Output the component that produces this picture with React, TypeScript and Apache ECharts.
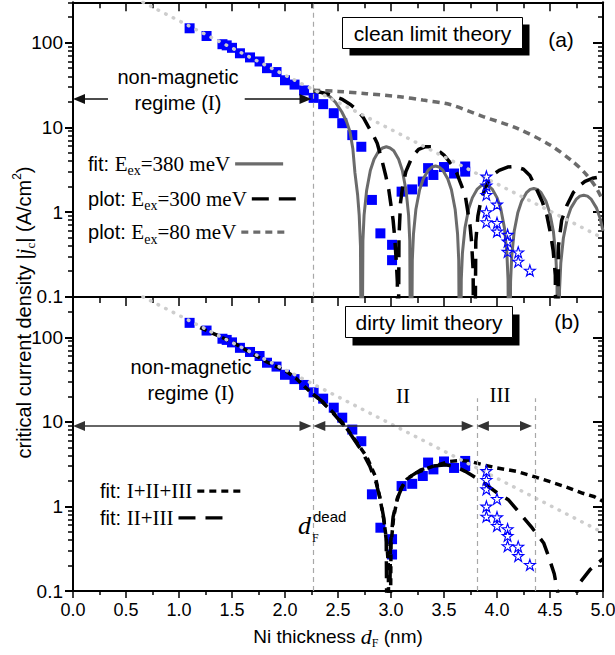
import React, { useEffect, useRef } from 'react';
import * as echarts from 'echarts';

const SANS = '"Liberation Sans", Arial, Helvetica, sans-serif';
const SERIF = '"Liberation Serif", "Times New Roman", serif';

// ---------- axes ----------
const xMin = 0;
const xMax = 5;
const xInterval = 0.5;
const yMajorValues = [0.1, 1, 10, 100];
const yMinorValues = [0.2, 0.3, 0.4, 0.5, 0.6, 0.7, 0.8, 0.9, 2, 3, 4, 5, 6, 7, 8, 9, 20, 30, 40, 50, 60, 70, 80, 90, 200, 300];
const yMinVal = 0.1;
const yMaxVal = 300;

// ---------- measured data (d_F in nm, jc in A/cm^2) ----------
const squares: number[][] = [
  [1.10, 148], [1.26, 120], [1.41, 96], [1.45, 93], [1.50, 87], [1.575, 75], [1.67, 67], [1.76, 60],
  [1.83, 50], [1.92, 45], [2.00, 36], [2.09, 32], [2.18, 27.3], [2.27, 22.3], [2.36, 18.8], [2.46, 14.7],
  [2.54, 11.2], [2.635, 8.1], [2.72, 5.9], [2.82, 1.39], [2.90, 0.56], [3.01, 0.41], [3.01, 0.27],
  [3.10, 1.74], [3.20, 1.85], [3.30, 2.29], [3.35, 3.3], [3.40, 2.74], [3.50, 3.4], [3.595, 2.85],
  [3.70, 3.45], [3.70, 3.0],
];
const stars: number[][] = [
  [3.90, 2.63], [3.90, 2.06], [3.90, 1.6], [4.0, 1.23], [3.90, 1.0], [3.90, 0.76], [4.0, 0.745],
  [4.0, 0.59], [4.1, 0.54], [4.1, 0.45], [4.1, 0.34], [4.2, 0.335], [4.2, 0.26], [4.31, 0.204],
];
// exponential reference decay (light grey dotted)
const refDecay: number[][] = [[0.66, 300], [5.0, 0.49]];

// ---------- clean limit theory (panel a) ----------
const clean380: number[][] = [
  [2.267, 27.6], [2.36, 25.5], [2.425, 23], [2.48, 19.5], [2.535, 15.3], [2.58, 11.8], [2.613, 8.9], [2.64, 5.6],
  [2.66, 2.9], [2.685, 1.6], [2.70, 0.92], [2.712, 0.4], [2.723, 0.001],
  [2.735, 0.46], [2.746, 0.92], [2.77, 1.8], [2.805, 3.1], [2.84, 4.2], [2.886, 5.3], [2.92, 5.7], [2.956, 5.9],
  [2.991, 5.7], [3.026, 5.3], [3.072, 4.2], [3.107, 3.1], [3.142, 1.8], [3.166, 0.92], [3.177, 0.46], [3.189, 0.001],
  [3.201, 0.27], [3.212, 0.55], [3.235, 1.08], [3.27, 1.83], [3.305, 2.47], [3.351, 3.12], [3.386, 3.4], [3.42, 3.5],
  [3.454, 3.4], [3.489, 3.12], [3.535, 2.47], [3.57, 1.83], [3.605, 1.08], [3.628, 0.55], [3.639, 0.27], [3.651, 0.001],
  [3.663, 0.16], [3.674, 0.33], [3.698, 0.65], [3.733, 1.1], [3.768, 1.48], [3.814, 1.87], [3.849, 2.04], [3.884, 2.1],
  [3.919, 2.04], [3.954, 1.87], [4.0, 1.48], [4.035, 1.1], [4.07, 0.65], [4.093, 0.33], [4.104, 0.16], [4.116, 0.001],
  [4.128, 0.15], [4.139, 0.3], [4.162, 0.59], [4.197, 0.99], [4.232, 1.34], [4.278, 1.69], [4.313, 1.85], [4.347, 1.9],
  [4.381, 1.85], [4.416, 1.69], [4.462, 1.34], [4.497, 0.99], [4.532, 0.59], [4.555, 0.3], [4.566, 0.15], [4.578, 0.001],
  [4.59, 0.12], [4.602, 0.25], [4.626, 0.49], [4.662, 0.83], [4.698, 1.12], [4.746, 1.41], [4.782, 1.54], [4.818, 1.58],
  [4.854, 1.54], [4.89, 1.41], [4.938, 1.12], [4.974, 0.83], [5.0, 0.6],
];
const clean300: number[][] = [
  [2.267, 27], [2.4, 25], [2.535, 21.6], [2.62, 18.5], [2.69, 15.6], [2.74, 13], [2.786, 10.2], [2.83, 8.2],
  [2.87, 6.5], [2.91, 4.3], [2.95, 2.7], [2.98, 1.8], [3.0, 1.2], [3.02, 0.8], [3.035, 0.5], [3.05, 0.26],
  [3.06, 0.15], [3.065, 0.001],
  [3.075, 0.5], [3.09, 1.3], [3.11, 2.0], [3.14, 3.0], [3.2, 4.5], [3.26, 5.5], [3.32, 5.9], [3.38, 5.9],
  [3.44, 5.4], [3.5, 4.7], [3.56, 3.8], [3.59, 3.4], [3.62, 2.9], [3.65, 2.3], [3.7, 1.58], [3.72, 1.1],
  [3.745, 0.7], [3.76, 0.45], [3.775, 0.2], [3.785, 0.001],
  [3.8, 0.45], [3.82, 0.9], [3.85, 1.4], [3.887, 1.9], [3.95, 2.7], [4.02, 3.1], [4.1, 3.4], [4.17, 3.45],
  [4.25, 3.2], [4.31, 2.7], [4.37, 1.9], [4.43, 1.3], [4.47, 0.92], [4.5, 0.6], [4.53, 0.35], [4.55, 0.18],
  [4.565, 0.001],
  [4.58, 0.4], [4.61, 0.8], [4.66, 1.2], [4.72, 1.7], [4.78, 2.05], [4.83, 2.3], [4.9, 2.5], [5.0, 2.65],
];
const clean80: number[][] = [
  [2.267, 27.5], [2.5, 26.6], [2.77, 25], [3.085, 23], [3.3, 21], [3.557, 18.6], [3.87, 13.4],
  [4.186, 9.8], [4.5, 6.2], [4.72, 3.9], [4.846, 2.74], [4.94, 1.9], [5.0, 1.35],
];

// ---------- dirty limit theory (panel b) ----------
const dirtyAll: number[][] = [
  [1.2, 130], [1.5, 88], [1.83, 51], [2.02, 39], [2.1, 33], [2.24, 22.5], [2.33, 18.2], [2.456, 12.8],
  [2.55, 9.5], [2.61, 7.5], [2.69, 5.4], [2.77, 3.9], [2.85, 2.3], [2.896, 1.25], [2.93, 0.72], [2.96, 0.38],
  [2.975, 0.2], [2.985, 0.001],
  [3.0, 0.35], [3.025, 0.75], [3.055, 1.15], [3.09, 1.6], [3.15, 2.1], [3.24, 2.5], [3.4, 3.0], [3.55, 3.4],
  [3.65, 3.5], [3.75, 3.4], [3.87, 3.1], [4.0, 2.85], [4.18, 2.6], [4.35, 2.25], [4.5, 1.96], [4.65, 1.7],
  [4.81, 1.43], [4.92, 1.3], [5.0, 1.15],
];
const dirty23: number[][] = [
  [2.27, 21], [2.35, 17.5], [2.45, 12.8], [2.55, 9.2], [2.63, 6.8], [2.72, 4.6], [2.8, 3.0], [2.86, 1.9],
  [2.9, 1.2], [2.93, 0.75], [2.955, 0.4], [2.97, 0.001],
  [2.995, 0.35], [3.02, 0.75], [3.06, 1.25], [3.11, 1.75], [3.18, 2.25], [3.28, 2.7], [3.4, 3.0], [3.52, 3.1],
  [3.62, 2.9], [3.7, 2.6], [3.77, 2.3], [3.9, 1.8], [4.0, 1.45], [4.11, 1.19], [4.23, 0.79], [4.33, 0.56],
  [4.44, 0.37], [4.48, 0.27], [4.54, 0.16], [4.57, 0.1], [4.62, 0.04], [4.66, 0.001],
  [4.72, 0.06], [4.77, 0.12], [4.88, 0.18], [5.0, 0.24],
];

// ---------- annotations ----------
const dDead = 2.265;
const regionIIEnd = 3.815;
const regionIIIEnd = 4.36;
const regionLineTop = 19;
const arrowLevelA = 21.6;
const arrowLevelB = 8.9;
const arrowsA = [[0, 0.33], [1.62, 2.25]];
const arrowsB = [[0, 2.25], [2.267, 3.78], [3.81, 4.33]];
const HEAD = 6 / 106; // half arrow-head length in nm

const legendLabels: Record<string, string> = {
  fit380: '{s|fit: }{r|E}{sub|ex}{r|=380 meV}',
  plot300: '{s|plot: }{r|E}{sub|ex}{r|=300 meV}',
  plot80: '{s|plot: }{r|E}{sub|ex}{r|=80 meV}',
  fitAll: '{s|fit: }{r|I+II+III}',
  fit23: '{s|fit: }{r|II+III}',
};
const legendRowsA = ['fit380', 'plot300', 'plot80'];
const legendRowsB = ['fitAll', 'fit23'];

const lg = (v: number) => Math.log10(v);
const toLog = (pts: number[][]) => pts.map(([d, j]) => [d, lg(j)]);

function buildOption() {
  const majorLogs = yMajorValues.map(lg);
  const minorLogs = yMinorValues.map(lg);
  const yFmt = (v: number) => {
    const n = Math.round(v);
    if (Math.abs(v - n) > 1e-6) return '';
    const val = Math.pow(10, n);
    return n < 0 ? val.toFixed(-n) : String(val);
  };
  const black = '#000';
  const yAxesFor = (g: number) => {
    const base = { gridIndex: g, type: 'value', min: lg(yMinVal), max: lg(yMaxVal), splitLine: { show: false } };
    return [
      {
        ...base, position: 'left',
        axisLine: { show: true, onZero: false, lineStyle: { color: black, width: 2 } },
        axisTick: { show: true, inside: false, length: 8, customValues: majorLogs, lineStyle: { color: black, width: 2 } },
        axisLabel: { show: true, customValues: majorLogs, formatter: yFmt, fontSize: 19, fontFamily: SANS, color: black, margin: 10 },
      },
      {
        ...base, position: 'left',
        axisLine: { show: false, onZero: false },
        axisTick: { show: true, inside: false, length: 5, customValues: minorLogs, lineStyle: { color: black, width: 1.5 } },
        axisLabel: { show: false },
      },
      {
        ...base, position: 'right',
        axisLine: { show: true, onZero: false, lineStyle: { color: black, width: 2 } },
        axisTick: { show: true, inside: true, length: 10, customValues: majorLogs, lineStyle: { color: black, width: 2 } },
        axisLabel: { show: false },
      },
      {
        ...base, position: 'right',
        axisLine: { show: false, onZero: false },
        axisTick: { show: true, inside: true, length: 5, customValues: minorLogs, lineStyle: { color: black, width: 1.5 } },
        axisLabel: { show: false },
      },
    ];
  };
  const xBase = (g: number) => ({ gridIndex: g, type: 'value', min: xMin, max: xMax, interval: xInterval, splitLine: { show: false } });
  const topAxis = (g: number) => ({
    ...xBase(g), position: 'top',
    axisLine: { show: true, onZero: false, lineStyle: { color: black, width: 2 } },
    axisTick: { show: true, inside: true, length: 9, lineStyle: { color: black, width: 1.5 } },
    minorTick: { show: true, splitNumber: 2, length: 6, lineStyle: { color: black, width: 1.5 } },
    axisLabel: { show: false },
  });
  const xAxes = [
    {
      ...xBase(0), position: 'bottom',
      axisLine: { show: true, onZero: false, lineStyle: { color: black, width: 2 } },
      axisTick: { show: false }, axisLabel: { show: false },
    },
    topAxis(0),
    topAxis(1),
    {
      ...xBase(1), position: 'bottom',
      axisLine: { show: true, onZero: false, lineStyle: { color: black, width: 2 } },
      axisTick: { show: true, inside: false, length: 7, lineStyle: { color: black, width: 1.5 } },
      minorTick: { show: true, splitNumber: 2, length: 4, lineStyle: { color: black, width: 1.5 } },
      axisLabel: { show: true, fontSize: 18, fontFamily: SANS, color: black, margin: 10, formatter: (v: number) => v.toFixed(1) },
      name: '{s|Ni thickness }{d|d}{sub|F}{s| (nm)}',
      nameLocation: 'middle', nameGap: 32, nameMoveOverlap: false,
      nameTextStyle: {
        rich: {
          s: { fontFamily: SANS, fontSize: 19, color: black, lineHeight: 26 },
          d: { fontFamily: SERIF, fontStyle: 'italic', fontSize: 22, color: black, lineHeight: 26 },
          sub: { fontFamily: SERIF, fontSize: 12, color: black, lineHeight: 10, verticalAlign: 'bottom' },
        },
      },
    },
  ];

  const dashGrey = { color: '#a8a8a8', width: 1.2, type: [5, 4] };
  const arrowItem = (x0: number, x1: number, y: number, headStart: boolean, headEnd: boolean, color: string) => [
    { coord: [x0 + (headStart ? HEAD : 0), lg(y)], symbol: headStart ? 'triangle' : 'none', symbolSize: [10, 12], lineStyle: { color, width: 1.5, type: 'solid' } },
    { coord: [x1 - (headEnd ? HEAD : 0), lg(y)], symbol: headEnd ? 'triangle' : 'none', symbolSize: [10, 12] },
  ];
  const markBase = { silent: true, animation: false, symbol: ['none', 'none'], label: { show: false }, emphasis: { disabled: true } };

  const squareSeries = (g: number) => ({
    type: 'scatter', name: 'data' + g, xAxisIndex: g === 0 ? 0 : 3, yAxisIndex: g === 0 ? 0 : 4,
    data: toLog(squares), symbol: 'rect', symbolSize: 10, itemStyle: { color: '#0000ff', opacity: 1 }, z: 2, silent: true,
  });
  const starSeries = (g: number) => ({
    type: 'scatter', name: 'stars' + g, xAxisIndex: g === 0 ? 0 : 3, yAxisIndex: g === 0 ? 0 : 4,
    data: toLog(stars),
    symbol: 'path://M50,2 L61.2,36.5 L97.6,36.5 L68.2,57.9 L79.4,92.5 L50,71.1 L20.6,92.5 L31.8,57.9 L2.4,36.5 L38.8,36.5 Z',
    symbolSize: 11, itemStyle: { color: 'rgba(255,255,255,0)', borderColor: '#0000ff', borderWidth: 1.1, opacity: 1 }, z: 6, silent: true,
  });
  const lineSeries = (name: string, g: number, pts: number[][], lineStyle: any, z: number, smooth: any = false) => ({
    type: 'line', name, xAxisIndex: g === 0 ? 0 : 3, yAxisIndex: g === 0 ? 0 : 4,
    data: toLog(pts), showSymbol: false, symbol: 'none', smooth, lineStyle,
    itemStyle: { color: lineStyle.color }, z, silent: true, clip: true,
  });

  const series: any[] = [
    squareSeries(0),
    {
      ...lineSeries('ref0', 0, refDecay, { color: '#cdcdcd', width: 3.5, type: [0.5, 8], cap: 'round' }, 4),
      markLine: {
        ...markBase,
        data: [
          [{ coord: [dDead, lg(yMinVal)], lineStyle: dashGrey }, { coord: [dDead, lg(yMaxVal)] }],
          arrowItem(arrowsA[0][0], arrowsA[0][1], arrowLevelA, true, false, '#111'),
          arrowItem(arrowsA[1][0], arrowsA[1][1], arrowLevelA, false, true, '#111'),
        ],
      },
    },
    lineSeries('fit380', 0, clean380, { color: '#6b6b6b', width: 3 }, 3),
    lineSeries('plot300', 0, clean300, { color: '#000000', width: 3.5, type: [17, 10] }, 3),
    lineSeries('plot80', 0, clean80, { color: '#6b6b6b', width: 3.5, type: [7, 5] }, 3, 0.3),
    starSeries(0),

    squareSeries(1),
    {
      ...lineSeries('ref1', 1, refDecay, { color: '#cdcdcd', width: 3.5, type: [0.5, 8], cap: 'round' }, 4),
      markLine: {
        ...markBase,
        data: [
          [{ coord: [dDead, lg(yMinVal)], lineStyle: dashGrey }, { coord: [dDead, lg(yMaxVal)] }],
          [{ coord: [regionIIEnd, lg(yMinVal)], lineStyle: dashGrey }, { coord: [regionIIEnd, lg(regionLineTop)] }],
          [{ coord: [regionIIIEnd, lg(yMinVal)], lineStyle: dashGrey }, { coord: [regionIIIEnd, lg(regionLineTop)] }],
          arrowItem(arrowsB[0][0], arrowsB[0][1], arrowLevelB, true, true, '#333'),
          arrowItem(arrowsB[1][0], arrowsB[1][1], arrowLevelB, true, true, '#333'),
          arrowItem(arrowsB[2][0], arrowsB[2][1], arrowLevelB, true, true, '#333'),
        ],
      },
    },
    lineSeries('fitAll', 1, dirtyAll, { color: '#000000', width: 3.5, type: [7, 5] }, 3),
    lineSeries('fit23', 1, dirty23, { color: '#000000', width: 3.5, type: [17, 10] }, 3),
    starSeries(1),
  ];

  const legendRich = {
    s: { fontFamily: SANS, fontSize: 20, color: '#000', lineHeight: 28 },
    r: { fontFamily: SERIF, fontSize: 21, color: '#000', lineHeight: 28 },
    sub: { fontFamily: SERIF, fontSize: 14, color: '#000', lineHeight: 10, verticalAlign: 'bottom' },
  };
  const legendRichB = {
    s: { fontFamily: SANS, fontSize: 20, color: '#000', lineHeight: 24 },
    r: { fontFamily: SERIF, fontSize: 21, color: '#000', lineHeight: 24 },
  };
  const legendRow = (name: string, left: number, top: number, h: number, rich: any) => ({
    data: [name], orient: 'vertical', left, top, align: 'right',
    itemWidth: 48, itemHeight: h, itemGap: 0, padding: 0, selectedMode: false,
    formatter: (n: string) => legendLabels[n], textStyle: { color: '#000', rich },
    lineStyle: { width: 3.2 },
    itemStyle: { opacity: 0, borderWidth: 0 },
  });
  const legendTopsA = [152.7, 187.7, 221];
  const legendTopsB = [480.7, 507.3];
  const legends = [
    ...legendRowsA.map((n, i) => legendRow(n, 88, legendTopsA[i], 28, legendRich)),
    ...legendRowsB.map((n, i) => legendRow(n, 100, legendTopsB[i], 24, legendRichB)),
  ];

  const txt = (x: number, y: number, text: string, size: number, family: string, extra: any = {}) => ({
    type: 'text', x, y, z: 100, silent: true,
    style: {
      text, fontSize: size, fontFamily: family, fill: '#000',
      align: 'center', verticalAlign: 'middle', textAlign: 'center', textVerticalAlign: 'middle', ...extra,
    },
  });
  const nmRich = {
    s: { fontFamily: SANS, fontSize: 20, fill: '#000', lineHeight: 26 },
    r: { fontFamily: SERIF, fontSize: 21, fill: '#000', lineHeight: 26 },
  };

  const graphic: any[] = [
    // y axis title
    {
      type: 'text', x: 24, y: 312.5, rotation: Math.PI / 2, z: 100, silent: true,
      style: {
        text: '{s|critical current density |}{j|j}{sub|c}{s|| (A/cm}{sup|2}{s|)}',
        align: 'center', verticalAlign: 'middle', textAlign: 'center', textVerticalAlign: 'middle', fill: '#000',
        rich: {
          s: { fontFamily: SANS, fontSize: 20, fill: '#000', lineHeight: 26 },
          j: { fontFamily: SERIF, fontStyle: 'italic', fontSize: 21, fill: '#000', lineHeight: 26 },
          sub: { fontFamily: SERIF, fontSize: 13, fill: '#000', lineHeight: 12, verticalAlign: 'bottom' },
          sup: { fontFamily: SANS, fontSize: 12, fill: '#000', lineHeight: 12, verticalAlign: 'top' },
        },
      },
    },
    // title boxes
    { type: 'rect', z: 99, silent: true, shape: { x: 349.5, y: 24.5, width: 180, height: 31 }, style: { fill: '#000' } },
    { type: 'rect', z: 99, silent: true, shape: { x: 342.5, y: 17.5, width: 180, height: 31 }, style: { fill: '#fff', stroke: '#000', lineWidth: 1 } },
    txt(432.5, 33.5, 'clean limit theory', 21, SANS),
    txt(561, 39, '(a)', 21, SANS),
    { type: 'rect', z: 99, silent: true, shape: { x: 352.5, y: 314.5, width: 167, height: 31 }, style: { fill: '#000' } },
    { type: 'rect', z: 99, silent: true, shape: { x: 345.5, y: 306.5, width: 167, height: 31 }, style: { fill: '#fff', stroke: '#000', lineWidth: 1 } },
    txt(429, 322.5, 'dirty limit theory', 21, SANS),
    txt(567, 321, '(b)', 21, SANS),
    // regime labels
    txt(178, 90, '{s|non-magnetic}\n{s|regime (}{r|I}{s|)}', 20, SANS, { rich: nmRich }),
    txt(191, 380, '{s|non-magnetic}\n{s|regime (}{r|I}{s|)}', 20, SANS, { rich: nmRich }),
    txt(403, 396, 'II', 21, SERIF),
    txt(500, 395, 'III', 21, SERIF),
    // d_F^dead
    txt(298, 525, 'd', 26, SERIF, { fontStyle: 'italic', align: 'left', textAlign: 'left' }),
    txt(313, 516, 'dead', 15, SANS, { align: 'left', textAlign: 'left' }),
    txt(312, 538, 'F', 12, SERIF, { align: 'left', textAlign: 'left' }),
  ];

  return {
    animation: false,
    backgroundColor: '#fff',
    grid: [
      { left: 73, top: 2.3, width: 530, height: 294.4, containLabel: false, outerBoundsMode: 'none' },
      { left: 73, top: 296.9, width: 530, height: 294.1, containLabel: false, outerBoundsMode: 'none' },
    ],
    xAxis: xAxes,
    yAxis: [...yAxesFor(0), ...yAxesFor(1)],
    legend: legends,
    series,
    graphic,
  };
}

export default function App() {
  const ref = useRef<HTMLDivElement>(null);
  useEffect(() => {
    if (!ref.current) return;
    const chart = echarts.init(ref.current, null, { renderer: 'svg' });
    chart.setOption(buildOption() as any);
    return () => chart.dispose();
  }, []);
  return (
    <div
      ref={ref}
      style={{ position: 'fixed', left: 0, top: 0, width: 615, height: 655, background: '#fff' }}
    />
  );
}
